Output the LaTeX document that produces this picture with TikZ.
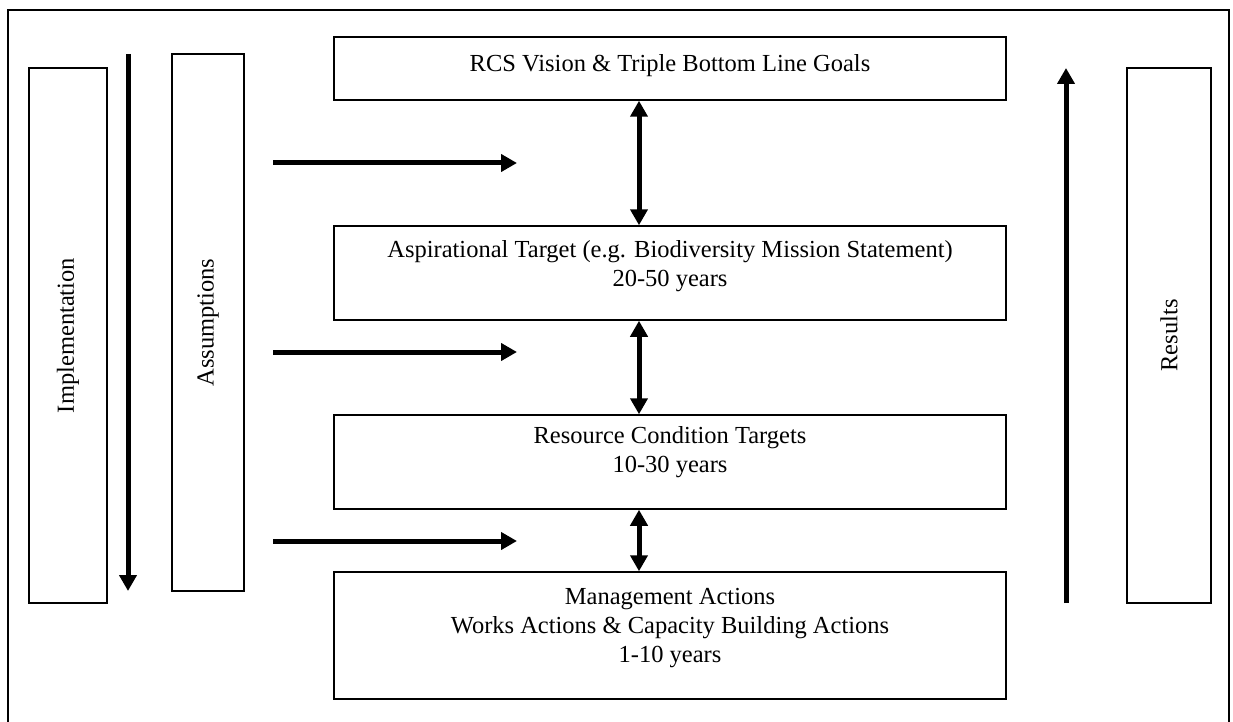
\documentclass[tikz,border=0pt]{standalone}
\usepackage{fontspec}
\setmainfont{Liberation Serif}
\usetikzlibrary{arrows.meta}

\tikzset{
  box/.style={draw, line width=1.5pt, rectangle, inner sep=0pt, align=center,
    font=\fontsize{24.5}{29}\selectfont},
  sidebox/.style={box},
  flow/.style={line width=5pt, -{Triangle[length=16pt,width=17pt]}},
  both/.style={line width=5pt, {Triangle[length=16pt,width=17pt]}-{Triangle[length=16pt,width=17pt]}},
  frame/.style={line width=1.5pt}
}

\begin{document}
\begin{tikzpicture}[x=1pt, y=-1pt]
  \useasboundingbox (0,0) rectangle (1233,722);

  % open outer frame (its bottom edge runs off the page)
  \draw[frame] (8,722) -- (8,10) -- (1229,10) -- (1229,722);

  % central column of targets
  \node[box, minimum width=672, minimum height=63, text depth=10pt] (vision) at (670,68.5)
    {RCS Vision \& Triple Bottom Line Goals};
  \node[box, minimum width=672, minimum height=94, text depth=20pt] (aspir) at (670,273)
    {Aspirational Target (e.g. Biodiversity Mission Statement)\\20-50 years};
  \node[box, minimum width=672, minimum height=94, text depth=26pt] (resource) at (670,462)
    {Resource Condition Targets\\10-30 years};
  \node[box, minimum width=672, minimum height=127, text depth=20pt] (manage) at (670,635.5)
    {Management Actions\\Works Actions \& Capacity Building Actions\\1-10 years};

  % side columns
  \node[sidebox, minimum width=78, minimum height=535] (impl) at (68,335.5)
    {\rotatebox{90}{Implementation}};
  \node[sidebox, minimum width=72, minimum height=537] (assum) at (208,322.5)
    {\rotatebox{90}{Assumptions}};
  \node[sidebox, minimum width=84, minimum height=535] (results) at (1169,335.5)
    {\rotatebox{90}{Results}};

  % links between the target levels
  \coordinate (link) at (639,0);
  \draw[both] (vision.south -| link) -- (aspir.north -| link);
  \draw[both] (aspir.south -| link) -- (resource.north -| link);
  \draw[both] (resource.south -| link) -- (manage.north -| link);

  % assumptions feeding in
  \coordinate (a1s) at (273,163);  \coordinate (a1e) at (517,163);
  \coordinate (a2s) at (273,352);  \coordinate (a2e) at (517,352);
  \coordinate (a3s) at (273,541);  \coordinate (a3e) at (517,541);
  \draw[flow] (a1s) -- (a1e);
  \draw[flow] (a2s) -- (a2e);
  \draw[flow] (a3s) -- (a3e);

  % implementation runs down, results run up
  \coordinate (dtop) at (128,54);   \coordinate (dbot) at (128,591);
  \draw[flow] (dtop) -- (dbot);
  \coordinate (ubot) at (1066,603); \coordinate (utop) at (1066,68);
  \draw[flow] (ubot) -- (utop);
\end{tikzpicture}
\end{document}
